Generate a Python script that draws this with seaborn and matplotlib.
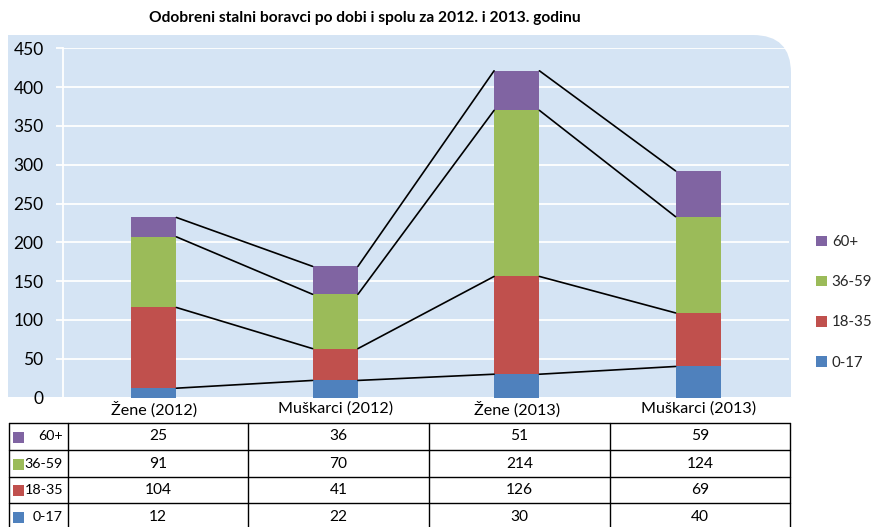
import matplotlib
matplotlib.use("Agg")
import matplotlib.pyplot as plt
from matplotlib.patches import FancyBboxPatch, Rectangle, Patch
import pandas as pd
import seaborn as sns

# data
categories = ["Žene (2012)", "Muškarci (2012)", "Žene (2013)", "Muškarci (2013)"]
age_groups = ["0-17", "18-35", "36-59", "60+"]
v_0_17 = [12, 22, 30, 40]
v_18_35 = [104, 41, 126, 69]
v_36_59 = [91, 70, 214, 124]
v_60 = [25, 36, 51, 59]
colors = {"0-17": "#4F81BD", "18-35": "#C0504D", "36-59": "#9BBB59", "60+": "#8064A2"}
y_ticks = list(range(0, 451, 50))
title = "Odobreni stalni boravci po dobi i spolu za 2012. i 2013. godinu"
panel_color = "#D5E4F4"

sns.set_theme(style="white")
plt.rcParams["font.family"] = ["Lato", "DejaVu Sans"]

df = pd.DataFrame({"kategorija": categories, "0-17": v_0_17, "18-35": v_18_35,
                   "36-59": v_36_59, "60+": v_60})
cum = df[age_groups].cumsum(axis=1)
cum["kategorija"] = df["kategorija"]

W, H = 871, 527
fig = plt.figure(figsize=(W / 100, H / 100), dpi=100)

# background layer in pixel coordinates (panel, table, title)
bg = fig.add_axes([0, 0, 1, 1], zorder=0)
bg.set_xlim(0, W)
bg.set_ylim(H, 0)
bg.axis("off")

# light blue panel with rounded top-right corner
bg.add_patch(FancyBboxPatch((8, 35), 783, 362, boxstyle="round,pad=0,rounding_size=38",
                            fc=panel_color, ec="none"))
bg.add_patch(Rectangle((8, 35), 80, 362, fc=panel_color, ec="none"))
bg.add_patch(Rectangle((8, 300), 783, 97, fc=panel_color, ec="none"))

bg.text(365, 18, title, ha="center", va="center", fontsize=11.2, fontweight="bold", color="black")

# main chart
ax = fig.add_axes([63 / W, 1 - 397.5 / H, 726 / W, 349.2 / H], zorder=1)
ax.patch.set_alpha(0)

# stacked bars: draw cumulative totals from the top group down
for grp in reversed(age_groups):
    sns.barplot(data=cum, x="kategorija", y=grp, color=colors[grp], width=0.25,
                saturation=1, linewidth=0, ax=ax, zorder=3)

# series lines joining the top of each segment
bw = 0.125
for grp in age_groups:
    vals = cum[grp].tolist()
    for i in range(len(vals) - 1):
        ax.plot([i + bw, i + 1 - bw], [vals[i], vals[i + 1]], color="black", lw=1.2, zorder=4)

ax.set_xlim(-0.5, 3.5)
ax.set_ylim(0, 450)
ax.set_yticks(y_ticks)
ax.set_xlabel("")
ax.set_ylabel("")
ax.yaxis.grid(True, color="white", lw=1.3)
ax.set_axisbelow(True)
for s in ["top", "right", "bottom"]:
    ax.spines[s].set_visible(False)
ax.spines["left"].set_color("white")
ax.spines["left"].set_linewidth(1.3)
ax.tick_params(axis="y", colors="white", labelcolor="black", length=5, width=1.3,
               labelsize=12.5, pad=9, left=True)
ax.set_xticks(range(len(categories)))
ax.set_xticklabels(categories, fontsize=11.6)
ax.tick_params(axis="x", length=0, pad=3, labelcolor="black")

# legend
handles = [Patch(fc=colors[g], ec="none") for g in reversed(age_groups)]
fig.legend(handles, list(reversed(age_groups)), loc="upper left",
           bbox_to_anchor=(816 / W, 1 - 235 / H), frameon=False, fontsize=10.8,
           handlelength=0.7, handleheight=0.7, handletextpad=0.35, labelspacing=1.75,
           borderpad=0, borderaxespad=0)

# data table
col_x = [9, 68, 248, 429, 610, 790]
row_y = [423, 450, 477, 503, 531]
for y in row_y:
    bg.plot([col_x[0], col_x[-1]], [y, y], color="black", lw=1)
for x in col_x:
    bg.plot([x, x], [row_y[0], row_y[-1]], color="black", lw=1)

for r, grp in enumerate(reversed(age_groups)):
    yc = (row_y[r] + row_y[r + 1]) / 2
    bg.add_patch(Rectangle((13, yc - 5), 11, 11, fc=colors[grp], ec="none"))
    bg.text(63, yc, grp, ha="right", va="center", fontsize=10.3, color="black")
    for c, v in enumerate(df[grp]):
        xc = (col_x[c + 1] + col_x[c + 2]) / 2
        bg.text(xc, yc, str(v), ha="center", va="center", fontsize=11.2, color="black")

fig.savefig("out.png", dpi=100)
